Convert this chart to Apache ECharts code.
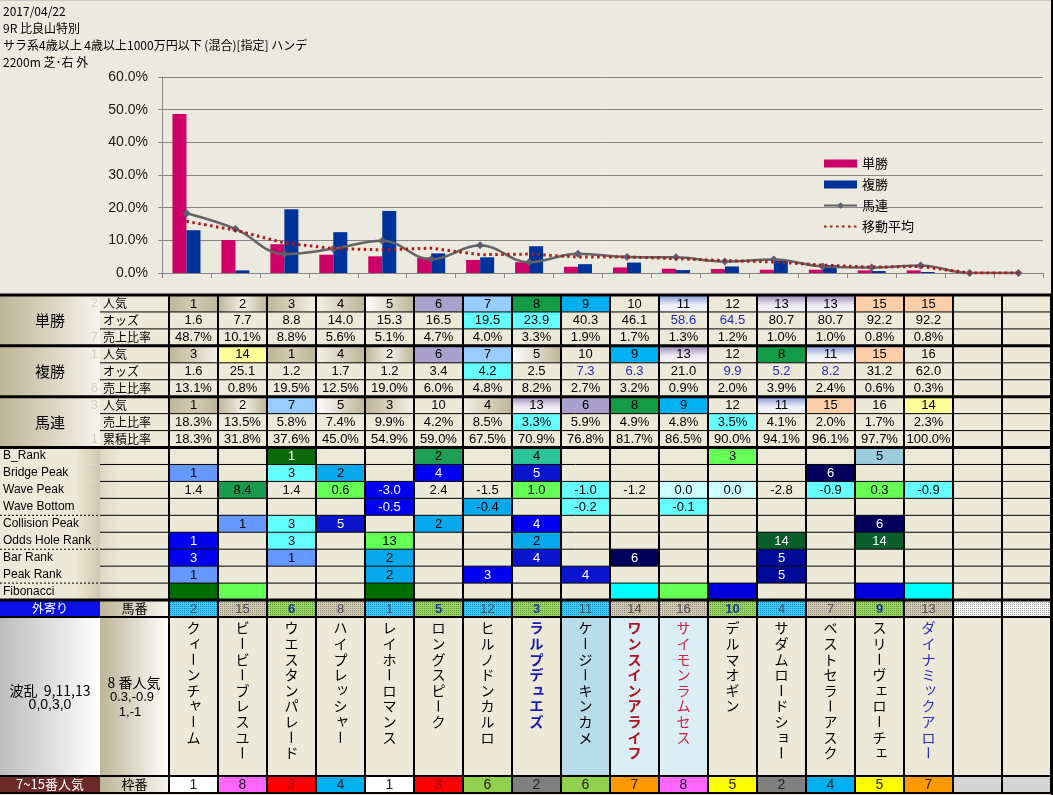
<!DOCTYPE html>
<html><head><meta charset="utf-8">
<script src="https://cdn.jsdelivr.net/npm/echarts@6/dist/echarts.min.js"></script>
<style>html,body{margin:0;padding:0;background:#ECE9DF;}#c{width:1053px;height:795px;}</style>
</head><body><div id="c"></div>
<script>
// ---------------- DATA ----------------
const titleLines = ['2017/04/22', '9R 比良山特別', 'サラ系4歳以上 4歳以上1000万円以下 (混合)[指定] ハンデ', '2200m 芝･右 外'];
const columns = ['1','2','3','4','5','6','7','8','9','10','11','12','13','14','15','16','17','18'];
const yTicks = [0, 10, 20, 30, 40, 50, 60];
const seriesNames = ['単勝', '複勝', '馬連', '移動平均'];

const winShare   = [48.7,10.1,8.8,5.6,5.1,4.7,4.0,3.3,1.9,1.7,1.3,1.2,1.0,1.0,0.8,0.8,null,null];
const placeShare = [13.1,0.8,19.5,12.5,19.0,6.0,4.8,8.2,2.7,3.2,0.9,2.0,3.9,2.4,0.6,0.3,null,null];
const quinShare  = [18.3,13.5,5.8,7.4,9.9,4.2,8.5,3.3,5.9,4.9,4.8,3.5,4.1,2.0,1.7,2.3,0,0];
const movingAvg  = [15.8,13.1,9.2,7.5,7.1,7.6,5.6,5.8,4.9,4.9,4.4,3.8,3.4,2.4,1.8,2.0,0,0];

const winPop    = [1,2,3,4,5,6,7,8,9,10,11,12,13,13,15,15,'',''];
const winOdds   = ['1.6','7.7','8.8','14.0','15.3','16.5','19.5','23.9','40.3','46.1','58.6','64.5','80.7','80.7','92.2','92.2','',''];
const placePop  = [3,14,1,4,2,6,7,5,10,9,13,12,8,11,15,16,'',''];
const placeOdds = ['1.6','25.1','1.2','1.7','1.2','3.4','4.2','2.5','7.3','6.3','21.0','9.9','5.2','8.2','31.2','62.0','',''];
const quinPop   = [1,2,7,5,3,10,4,13,6,8,9,12,11,15,16,14,'',''];
const quinCum   = [18.3,31.8,37.6,45.0,54.9,59.0,67.5,70.9,76.8,81.7,86.5,90.0,94.1,96.1,97.7,100.0,null,null];

// marks: c = cyan cell, b = blue text
const winOddsMark   = ['','','','','','','c','c','','','b','b','','','','','',''];
const placeOddsMark = ['','','','','','','c','','b','b','','b','b','b','','','',''];
const quinShareMark = ['','','','','','','','c','','','','c','','','','','',''];

const bRank      = ['','',1,'','',2,'',4,'','','',3,'','',5,'','',''];
const bRankC     = ['','','G1','','','G2','','TE','','','','LG','','','SB','','',''];
const bridgePeak = [1,'',3,2,'',4,'',5,'','','','','',6,'','','',''];
const bridgePeakC= ['CF','','CY','SK','','BL','','B2','','','','','','NV','','','',''];
const wavePeak   = ['1.4','8.4','1.4','0.6','-3.0','2.4','-1.5','1.0','-1.0','-1.2','0.0','0.0','-2.8','-0.9','0.3','-0.9','',''];
const wavePeakC  = ['','GW','','LG','BL','','','LG','CY','','LC','LC','','CY','LG','CY','',''];
const waveBottom = ['','','','','-0.5','','-0.4','','-0.2','','-0.1','','','','','','',''];
const waveBottomC= ['','','','','BL','','SK','','CY','','CY','','','','','','',''];
const collision  = ['',1,3,5,'',2,'',4,'','','','','','',6,'','',''];
const collisionC = ['','CF','CY','B2','','SK','','BL','','','','','','','NV','','',''];
const oddsHole   = [1,'',3,'',13,'','',2,'','','','',14,'',14,'','',''];
const oddsHoleC  = ['BL','','CY','','LG','','','SK','','','','','DG','','DG','','',''];
const barRank    = [3,'',1,'',2,'','',4,'',6,'','',5,'','','','',''];
const barRankC   = ['BL','','CF','','SK','','','B2','','NV','','','DB','','','','',''];
const peakRank   = [1,'','','',2,'',3,'',4,'','','',5,'','','','',''];
const peakRankC  = ['CF','','','','SK','','BL','','B2','','','','DB','','','','',''];
const fibC       = ['FD','LG','','','FD','','','','','FC','LG','FB','','','FB','FC','',''];

const umaban     = [2,15,6,8,1,5,12,3,11,14,16,10,4,7,9,13,'',''];
const umabanC    = ['B','K','G','K','B','G','B','G','B','K','K','G','B','K','G','K','W','W'];
const horseNames = ['クィーンチャーム','ビービーブレスユー','ウエスタンパレード','ハイプレッシャー','レイホーロマンス','ロングスピーク','ヒルノドンカルロ','ラルプデュエズ','ケージーキンカメ','ワンスインアライフ','サイモンラムセス','デルマオギン','サダムロードショー','ベストセラーアスク','スリーヴェローチェ','ダイナミックアロー','',''];
const nameStyle  = ['','','','','','','','BB','','RB','R','','','','','B','',''];
const nameBgKey  = ['','','','','','','','','H1','H2','H2','','','','','','',''];
const waku       = [1,8,3,4,1,3,6,2,6,7,8,5,2,4,5,7,'',''];

const rowLabels  = ['人気','オッズ','売上比率','人気','オッズ','売上比率','人気','売上比率','累積比率','B_Rank','Bridge Peak','Wave Peak','Wave Bottom','Collision Peak','Odds Hole Rank','Bar Rank','Peak Rank','Fibonacci','馬番'];
const groupLabels= ['単勝','複勝','馬連'];
const faintNums  = ['2','','7','1','','6','3','','1'];
const outerLabel = '外寄り';
const namesHead1 = ['波乱  9,11,13', '0,0,3,0'];
const namesHead2 = ['8 番人気', '0.3,-0.9', '1,-1'];
const wakuHead   = ['7~15番人気', '枠番'];

// ---------------- STYLE ----------------
const JP = '"Noto Sans CJK JP", sans-serif';
const LAT = '"Liberation Sans", "DejaVu Sans", sans-serif';
const BEIGE = '#ECE9D8';
const LABEL_W = 69, GROUP_W = 100;
const lin = (x0,y0,x1,y1,stops) => new echarts.graphic.LinearGradient(x0,y0,x1,y1, stops.map(s => ({offset:s[0], color:s[1]})));
const KH = '#BDB597';
const palette = {
  G1:['#0A6A0A','#fff'], G2:['#1E9E52','#000'], TE:['#2BC39A','#000'], LG:['#66FF55','#000'], SB:['#9CCCDC','#000'],
  CF:['#6699FF','#000'], CY:['#66FFFF','#000'], SK:['#08A8EC','#000'], BL:['#0000F0','#fff'], B2:['#0A14CC','#fff'],
  NV:['#00005C','#fff'], DB:['#000A99','#fff'], GW:['#1A9A4C','#000'], LC:['#CCFFFF','#000'], DG:['#0B5E2C','#fff'],
  FD:['#006E00','#fff'], FC:['#00FFFF','#000'], FB:['#0000DD','#fff']
};
function popFill(rank){
  const L = '#F2F0E6';
  switch(rank){
    case 1: return lin(0,0,1,0,[[0,'#BEB697'],[0.5,'#D2CBB2'],[1,'#BEB697']]);
    case 2: return lin(0,0,1,0,[[0,KH],[0.5,L],[1,KH]]);
    case 3: return lin(0,0,1,0,[[0,KH],[1,L]]);
    case 4: return lin(0,0,1,0,[[0,L],[1,KH]]);
    case 5: return lin(0,0,1,0,[[0,'#FFFFFF'],[1,KH]]);
    case 6: return '#A9A0CC';
    case 7: return '#99CCFF';
    case 8: return '#139B48';
    case 9: return '#00B0F0';
    case 11: return lin(0,0,0,1,[[0,'#7F95D5'],[0.6,'#EEF0F8'],[1,'#F4F4F8']]);
    case 13: return lin(0,0,0,1,[[0,'#9888B8'],[0.6,'#EEEAF2'],[1,'#F4F2F6']]);
    case 14: return '#FFFF99';
    case 15: return '#FCCFAA';
  }
  return BEIGE;
}
function dotted(base, dot){
  const cv = document.createElement('canvas'); cv.width = 2; cv.height = 2;
  const g = cv.getContext('2d'); g.fillStyle = base; g.fillRect(0,0,2,2);
  g.fillStyle = dot; g.fillRect(0,0,1,1);
  return {type:'pattern', image: cv, repeat:'repeat'};
}
const umabanFill = {B: dotted('#3CCDFF','#1588B8'), K: dotted('#D4CCB4','#8A8270'), G: dotted('#9CD468','#5C9430'), W: dotted('#FFFFFF','#9A9A9A')};
const nameBg = {H1:'#B8DCE8', H2:'#DCEEF5'};
const nameColor = {BB:['#1A1AB0','bold'], RB:['#B01020','bold'], R:['#D02040','normal'], B:['#2B2BC0','normal']};
const wakuColor = {1:'#FFFFFF',2:'#808080',3:'#FF0000',4:'#00B0F0',5:'#FFFF00',6:'#92D050',7:'#FF9900',8:'#FF66FF'};

const pct = v => (v === null || v === undefined) ? '' : v.toFixed(1) + '%';

// ---------------- TABLE CELLS ----------------
const cells = [];
function addRow(r, texts, fillFn, colorFn, font){
  for (let c = 0; c < 18; c++) {
    cells.push({value:[c, r], t: String(texts[c] ?? ''), f: fillFn(c), tc: colorFn(c), font: font || LAT});
  }
}
const plain = () => BEIGE, black = () => '#000';
const markFill = m => c => (m[c] === 'c' ? '#66FFFF' : BEIGE);
const markColor = m => c => (m[c] === 'b' ? '#2828C0' : '#000');
const palFill = arr => c => (arr[c] ? palette[arr[c]][0] : BEIGE);
const palText = arr => c => (arr[c] ? palette[arr[c]][1] : '#000');

addRow(0, winPop, c => popFill(winPop[c]), black);
addRow(1, winOdds, markFill(winOddsMark), markColor(winOddsMark));
addRow(2, winShare.map(pct), plain, black);
addRow(3, placePop, c => popFill(placePop[c]), black);
addRow(4, placeOdds, markFill(placeOddsMark), markColor(placeOddsMark));
addRow(5, placeShare.map(pct), plain, black);
addRow(6, quinPop, c => popFill(quinPop[c]), black);
addRow(7, quinShare.map((v,i) => winPop[i] === '' ? '' : pct(v)), markFill(quinShareMark), black);
addRow(8, quinCum.map(pct), plain, black);
addRow(9, bRank, palFill(bRankC), palText(bRankC));
addRow(10, bridgePeak, palFill(bridgePeakC), palText(bridgePeakC));
addRow(11, wavePeak, palFill(wavePeakC), palText(wavePeakC));
addRow(12, waveBottom, palFill(waveBottomC), palText(waveBottomC));
addRow(13, collision, palFill(collisionC), palText(collisionC));
addRow(14, oddsHole, palFill(oddsHoleC), palText(oddsHoleC));
addRow(15, barRank, palFill(barRankC), palText(barRankC));
addRow(16, peakRank, palFill(peakRankC), palText(peakRankC));
addRow(17, fibC.map(() => ''), palFill(fibC), black);
for (let c = 0; c < 18; c++) {
  const g = umabanC[c] === 'G';
  cells.push({value:[c, 18], t:String(umaban[c]), f: umabanFill[umabanC[c]], tc: g ? '#1A3A9A' : '#4A4A5A', fw: g ? 'bold' : 'normal', font: LAT});
}

// ---------------- RENDERERS ----------------
const R = (x,y,w,h,fill) => ({type:'rect', shape:{x,y,width:w,height:h}, style:{fill}});
const T = (text,x,y,align,size,color,family,weight) => ({type:'text', x, y, style:{text, align, verticalAlign:'middle', fill: color || '#000', fontSize:size, fontFamily: family || JP, fontWeight: weight || 'normal'}});
const Ln = (x1,y1,x2,y2,w,dash) => ({type:'line', shape:{x1,y1,x2,y2}, style:{stroke:'#000', lineWidth:w, lineDash: dash || null}});

function renderCell(params, api){
  const d = cells[params.dataIndex];
  const p = api.coord([api.value(0), api.value(1)]);
  const s = api.size([1,1]);
  return {type:'group', children:[
    R(p[0]-s[0]/2, p[1]-s[1]/2, s[0], s[1], d.f),
    T(d.t, p[0], p[1]+0.5, 'center', 13, d.tc, d.font, d.fw)
  ]};
}
function renderHeader(params, api){
  const r = api.value(1);
  const cs = params.coordSys;
  const p = api.coord([0, r]); const s = api.size([1,1]);
  const top = p[1]-s[1]/2, h = s[1];
  const xL = cs.x - LABEL_W, x0 = xL - GROUP_W;
  const ch = [];
  if (r < 9) {
    ch.push(R(xL, top, LABEL_W, h, BEIGE));
    ch.push(T(rowLabels[r], xL+3, p[1], 'left', 12));
    if (r % 3 === 0) {
      ch.push(R(x0, top, GROUP_W, h*3, lin(0,0,1,0,[[0,KH],[1,'#F6F4EC']])));
      ch.push(T(groupLabels[r/3], x0 + GROUP_W/2, top + h*1.5, 'center', 15));
    }
    if (faintNums[r]) ch.push(T(faintNums[r], xL-2, p[1], 'right', 13, '#D4D1C6', LAT));
  } else if (r < 18) {
    ch.push(R(x0, top, GROUP_W, h, lin(0,0,1,0,[[0,BEIGE],[0.75,BEIGE],[1,'#CFC8B0']])));
    ch.push(R(xL, top, LABEL_W, h, lin(0,0,1,0,[[0,'#DCD7C4'],[0.3,BEIGE],[1,BEIGE]])));
    ch.push(T(rowLabels[r], x0+3, p[1], 'left', 12, '#000', LAT));
  } else {
    ch.push(R(x0, top, GROUP_W, h, '#0A10E6'));
    ch.push(T(outerLabel, x0 + GROUP_W/2, p[1], 'center', 12, '#fff'));
    ch.push(R(xL, top, LABEL_W, h, lin(0,0,1,0,[[0,KH],[1,'#F6F4EC']])));
    ch.push(T(rowLabels[r], xL + LABEL_W/2, p[1], 'center', 13));
  }
  return {type:'group', children: ch};
}
function renderLines1(params){
  const cs = params.coordSys; const cw = cs.width/18, rh = cs.height/19;
  const ch = [];
  const xL = cs.x - LABEL_W, right = cs.x + cs.width;
  for (let r = 0; r <= 19; r++) {
    const y = cs.y + r*rh;
    if ([0,3,6,9,18].includes(r)) ch.push(Ln(0, y, right, y, 3));
    else if (r === 19) ch.push(Ln(0, y, right, y, 2));
    else if ([13,15,17].includes(r)) { ch.push(Ln(0, y, xL, y, 1, [2,2])); ch.push(Ln(xL, y, right, y, 1)); }
    else ch.push(Ln(xL, y, right, y, 1));
  }
  for (let k = 0; k <= 18; k++) { const x = cs.x + k*cw; ch.push(Ln(x, cs.y, x, cs.y + cs.height, 2)); }
  return {type:'group', children: ch};
}
function renderName(params, api){
  const i = params.dataIndex;
  const p = api.coord([api.value(0), 0]); const s = api.size([1,1]);
  const x0 = p[0]-s[0]/2, y0 = p[1]-s[1]/2;
  const st = nameColor[nameStyle[i]] || ['#000','normal'];
  const ch = [R(x0, y0, s[0], s[1], nameBg[nameBgKey[i]] || BEIGE)];
  Array.from(horseNames[i]).forEach((c, k) => {
    const small = 'ィャュョッェァ'.includes(c);
    const el = T(c, p[0] + (small ? 2 : 0), y0 + 11 + k*15.6 - (small ? 2 : 0), 'center', 14, st[0], JP, st[1]);
    if (c === 'ー') el.rotation = -Math.PI/2;
    ch.push(el);
  });
  return {type:'group', children: ch};
}
function renderNameHead(params){
  const cs = params.coordSys;
  const xL = cs.x - LABEL_W, x0 = xL - GROUP_W;
  const cy = cs.y + cs.height/2;
  return {type:'group', children:[
    R(x0, cs.y, GROUP_W, cs.height, lin(0,0,1,0,[[0,'#BDBDBD'],[1,'#FFFFFF']])),
    T(namesHead1[0], x0 + GROUP_W/2, cy - 6, 'center', 14),
    T(namesHead1[1], x0 + GROUP_W/2, cy + 9, 'center', 14, '#000', LAT),
    R(xL, cs.y, LABEL_W, cs.height, lin(0,0,1,0,[[0,KH],[1,'#FFFFFF']])),
    T(namesHead2[0], xL + 34, cy - 14, 'center', 14),
    T(namesHead2[1], xL + 32, cy + 1, 'center', 13, '#000', LAT),
    T(namesHead2[2], xL + 30, cy + 16, 'center', 13, '#000', LAT)
  ]};
}
function renderLinesCols(params){
  const cs = params.coordSys; const cw = cs.width/18; const ch = [];
  for (let k = 0; k <= 18; k++) { const x = cs.x + k*cw; ch.push(Ln(x, cs.y, x, cs.y + cs.height, 2)); }
  ch.push(Ln(0, cs.y + cs.height, cs.x + cs.width, cs.y + cs.height, 2));
  return {type:'group', children: ch};
}
function renderWaku(params, api){
  const v = waku[params.dataIndex];
  const p = api.coord([api.value(0), 0]); const s = api.size([1,1]);
  return {type:'group', children:[
    R(p[0]-s[0]/2, p[1]-s[1]/2, s[0], s[1], v === '' ? '#D4D4D4' : wakuColor[v]),
    T(String(v), p[0], p[1]+0.5, 'center', 14, v === 3 ? '#8A0000' : '#222', LAT)
  ]};
}
function renderWakuHead(params){
  const cs = params.coordSys;
  const xL = cs.x - LABEL_W, x0 = xL - GROUP_W;
  const cy = cs.y + cs.height/2;
  return {type:'group', children:[
    R(x0, cs.y, GROUP_W, cs.height, '#6B2A2A'),
    T(wakuHead[0], x0 + GROUP_W/2, cy, 'center', 13, '#fff'),
    R(xL, cs.y, LABEL_W, cs.height, lin(0,0,1,0,[[0,KH],[1,'#F6F4EC']])),
    T(wakuHead[1], xL + LABEL_W/2, cy, 'center', 13)
  ]};
}

// ---------------- OPTION ----------------
const rowIdx = rowLabels.map((_, i) => i);
const hiddenCat = (gi, data, inverse) => ({type:'category', gridIndex: gi, data, show:false, inverse: !!inverse});
const chart = echarts.init(document.getElementById('c'));
chart.setOption({
  backgroundColor: '#ECE9DF',
  animation: false,
  title: {text: titleLines.join('\n'), left: 3, top: 3, padding: 0, textStyle:{fontSize:12, fontWeight:'normal', color:'#000', fontFamily: JP, lineHeight:17}},
  legend: {orient:'vertical', left: 823, top: 157, padding: 0, itemWidth: 33, itemHeight: 8, itemGap: 8,
    textStyle:{fontSize:13, color:'#000', fontFamily: JP},
    data:[{name: seriesNames[0], icon:'rect'}, {name: seriesNames[1], icon:'rect'}, {name: seriesNames[2]},
          {name: seriesNames[3], itemStyle:{color:'rgba(0,0,0,0)', borderWidth:0}}]},
  grid: [
    {left:162, right:10, top:77, height:196},
    {left:169, right:2, top:295, height:322},
    {left:169, right:2, top:617, height:159},
    {left:169, right:2, top:776, height:17}
  ],
  xAxis: [
    {type:'category', gridIndex:0, data: columns, boundaryGap:true,
     axisLine:{lineStyle:{color:'#868686'}}, axisTick:{show:true, interval:0, length:5, lineStyle:{color:'#868686'}}, axisLabel:{show:false}},
    hiddenCat(1, columns), hiddenCat(2, columns), hiddenCat(3, columns)
  ],
  yAxis: [
    {type:'value', gridIndex:0, min: yTicks[0], max: yTicks[yTicks.length-1], interval: 10,
     axisLine:{show:true, lineStyle:{color:'#868686'}}, axisTick:{show:true, length:4, lineStyle:{color:'#868686'}},
     splitLine:{lineStyle:{color:'#868686', width:1}},
     axisLabel:{formatter: v => v.toFixed(1) + '%', fontSize:14, color:'#1a1a1a', fontFamily: LAT, margin:14}},
    hiddenCat(1, rowIdx, true), hiddenCat(2, ['n']), hiddenCat(3, ['w'])
  ],
  series: [
    {name: seriesNames[0], type:'bar', xAxisIndex:0, yAxisIndex:0, data: winShare, barWidth:14, barGap:'0%', itemStyle:{color:'#CC0066'}},
    {name: seriesNames[1], type:'bar', xAxisIndex:0, yAxisIndex:0, data: placeShare, barWidth:14, barGap:'0%', itemStyle:{color:'#003399'}},
    {name: seriesNames[2], type:'line', xAxisIndex:0, yAxisIndex:0, data: quinShare, smooth:0.4, symbol:'diamond', symbolSize:8,
     lineStyle:{color:'#646464', width:2.5}, itemStyle:{color:'#5C5C72'}, z:4},
    {name: seriesNames[3], type:'line', xAxisIndex:0, yAxisIndex:0, data: movingAvg, symbol:'none',
     lineStyle:{color:'#B01818', width:3, type:[2.5,3.5], cap:'butt'}, itemStyle:{color:'#B01818'}, z:5},
    {type:'custom', xAxisIndex:1, yAxisIndex:1, data: cells, renderItem: renderCell, z:2, silent:true},
    {type:'custom', xAxisIndex:1, yAxisIndex:1, data: rowIdx.map(r => [0, r]), renderItem: renderHeader, z:2, silent:true},
    {type:'custom', xAxisIndex:1, yAxisIndex:1, data: [[0,0]], renderItem: renderLines1, z:3, silent:true},
    {type:'custom', xAxisIndex:2, yAxisIndex:2, data: horseNames.map((_, c) => [c, 0]), renderItem: renderName, z:2, silent:true},
    {type:'custom', xAxisIndex:2, yAxisIndex:2, data: [[0,0]], renderItem: renderNameHead, z:2, silent:true},
    {type:'custom', xAxisIndex:2, yAxisIndex:2, data: [[0,0]], renderItem: renderLinesCols, z:3, silent:true},
    {type:'custom', xAxisIndex:3, yAxisIndex:3, data: waku.map((_, c) => [c, 0]), renderItem: renderWaku, z:2, silent:true},
    {type:'custom', xAxisIndex:3, yAxisIndex:3, data: [[0,0]], renderItem: renderWakuHead, z:2, silent:true},
    {type:'custom', xAxisIndex:3, yAxisIndex:3, data: [[0,0]], renderItem: renderLinesCols, z:3, silent:true}
  ],
  graphic: [
    {type:'line', shape:{x1:0, y1:0.5, x2:1053, y2:0.5}, style:{stroke:'#C8C8C8', lineWidth:1}, z:10},
    {type:'line', shape:{x1:1052, y1:0, x2:1052, y2:795}, style:{stroke:'#000', lineWidth:2}, z:10}
  ]
});
</script></body></html>
